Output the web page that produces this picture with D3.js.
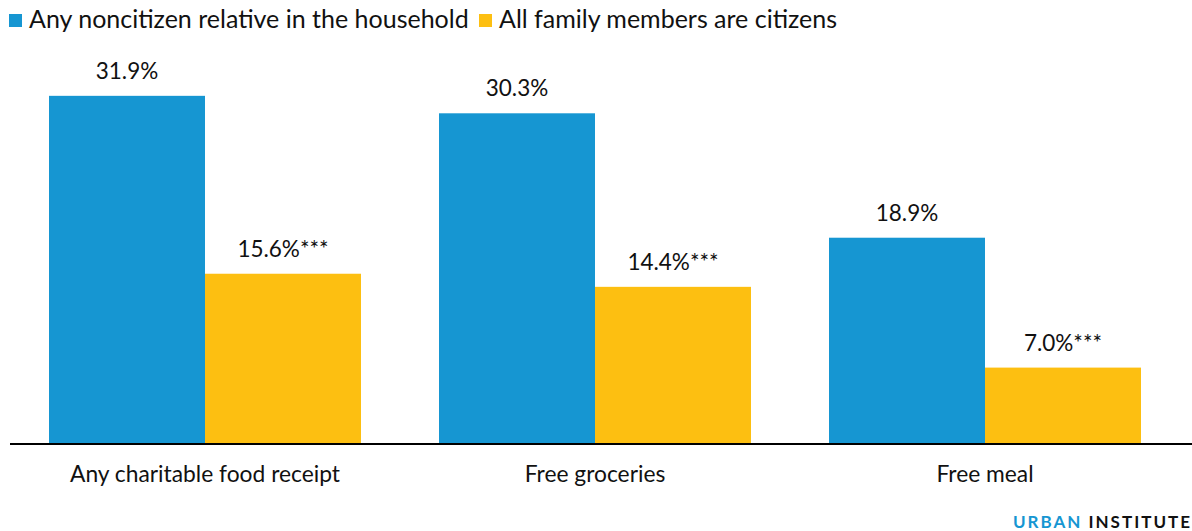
<!DOCTYPE html>
<html>
<head>
<meta charset="utf-8">
<script src="https://cdn.jsdelivr.net/npm/d3@7"></script>
<style>
  html, body { margin: 0; padding: 0; background: #fff; }
  svg { display: block; font-family: Lato, "Open Sans", sans-serif; }
</style>
</head>
<body>
<svg id="chart" width="1192" height="531"></svg>
<script>
// Share of adults reporting charitable food receipt, by household citizenship
const categories = ["Any charitable food receipt", "Free groceries", "Free meal"];
const seriesNames = ["Any noncitizen relative in the household", "All family members are citizens"];
const noncitizenValues = [31.9, 30.3, 18.9];
const citizenValues = [15.6, 14.4, 7.0];
const significance = ["", "***"];
const colors = ["#1696d2", "#fdbf11"];

const svg = d3.select("#chart");
const W = 1192, H = 531;
const baseY = 444;

const x0 = d3.scaleBand()
  .domain(categories)
  .range([10, 1180])
  .paddingInner(0.2)
  .paddingOuter(0.1);

const x1 = d3.scaleBand()
  .domain(seriesNames)
  .range([0, x0.bandwidth()])
  .padding(0);

const y = d3.scaleLinear()
  .domain([0, 35])
  .range([baseY, 62]);

const rows = categories.map((c, i) => ({
  category: c,
  values: [
    { series: seriesNames[0], value: noncitizenValues[i], sig: significance[0], color: colors[0] },
    { series: seriesNames[1], value: citizenValues[i], sig: significance[1], color: colors[1] }
  ]
}));

const groups = svg.append("g").selectAll("g")
  .data(rows)
  .join("g")
  .attr("transform", d => `translate(${x0(d.category)},0)`);

groups.selectAll("rect")
  .data(d => d.values)
  .join("rect")
  .attr("x", d => x1(d.series))
  .attr("y", d => y(d.value))
  .attr("width", x1.bandwidth())
  .attr("height", d => baseY - y(d.value))
  .attr("fill", d => d.color);

groups.selectAll("text.value")
  .data(d => d.values)
  .join("text")
  .attr("class", "value")
  .attr("x", d => x1(d.series) + x1.bandwidth() / 2)
  .attr("y", d => y(d.value) - 17)
  .attr("text-anchor", "middle")
  .attr("font-size", 22.5)
  .attr("fill", "#111")
  .text(d => d.value.toFixed(1) + "%" + d.sig);

// Baseline axis with category labels
const xAxis = d3.axisBottom(x0).tickSize(0).tickPadding(22);
const axisG = svg.append("g")
  .attr("transform", `translate(0,${baseY})`)
  .call(xAxis);
axisG.select(".domain").remove();
axisG.selectAll("text")
  .attr("font-family", "Lato, sans-serif")
  .attr("font-size", 22.8)
  .attr("fill", "#111")
  .attr("dy", "0.71em");
svg.append("line")
  .attr("x1", 10).attr("x2", W)
  .attr("y1", baseY).attr("y2", baseY)
  .attr("stroke", "#000")
  .attr("stroke-width", 2);

// Legend
const legendX = [9, 479];
const legend = svg.append("g").selectAll("g")
  .data(seriesNames)
  .join("g")
  .attr("transform", (d, i) => `translate(${legendX[i]},0)`);
legend.append("rect")
  .attr("x", 0).attr("y", 14)
  .attr("width", 13).attr("height", 13)
  .attr("fill", (d, i) => colors[i]);
legend.append("text")
  .attr("x", 20).attr("y", 28)
  .attr("font-size", 25)
  .attr("fill", "#111")
  .text(d => d);

// Branding
const brand = svg.append("text")
  .attr("x", 1192).attr("y", 528)
  .attr("text-anchor", "end")
  .attr("font-size", 17)
  .attr("font-weight", 700)
  .attr("letter-spacing", 2);
brand.append("tspan").attr("fill", "#1696d2").text("URBAN ");
brand.append("tspan").attr("fill", "#111").text("INSTITUTE");
</script>
</body>
</html>
